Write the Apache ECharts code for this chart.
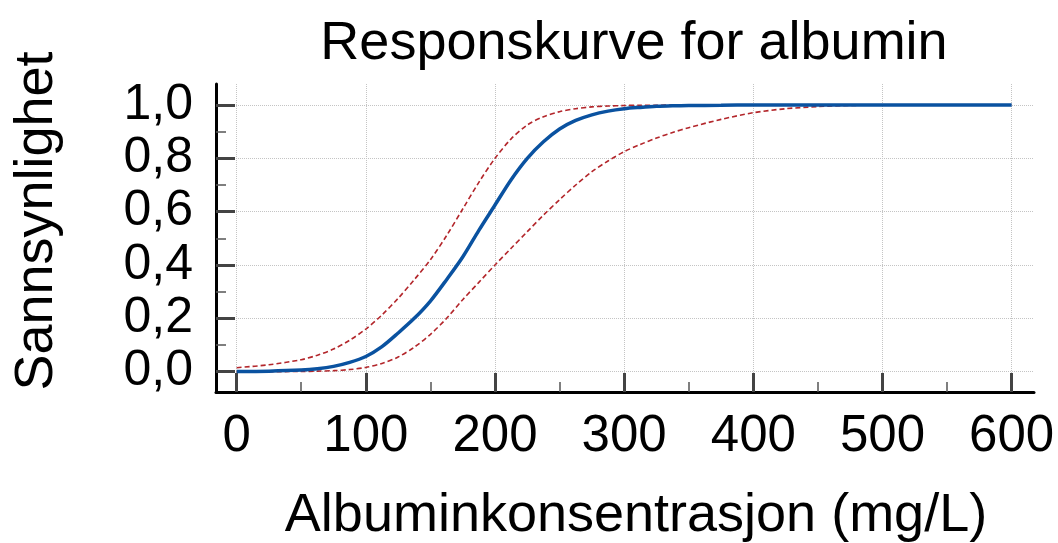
<!DOCTYPE html>
<html>
<head>
<meta charset="utf-8">
<title>Responskurve for albumin</title>
<script src="https://cdn.jsdelivr.net/npm/echarts@6/dist/echarts.min.js"></script>
<style>
  html, body { margin: 0; padding: 0; background: #fff; }
  #chart { width: 1058px; height: 543px; }
</style>
</head>
<body>
<div id="chart"></div>
<script>
// albumin concentration (mg/L)
const albumin = [0, 25, 50, 62.5, 75, 87.5, 100, 112.5, 125, 137.5, 150, 162.5, 175, 187.5, 200, 212.5, 225, 237.5,
  250, 262.5, 275, 287.5, 300, 312.5, 325, 337.5, 350, 375, 400, 425, 450, 475, 500, 550, 600]
// fitted response curve
const response = [0.001, 0.002, 0.006, 0.011, 0.02, 0.035, 0.057, 0.094, 0.145, 0.2, 0.265, 0.345, 0.43, 0.53, 0.625, 0.72, 0.8, 0.862,
  0.91, 0.942, 0.963, 0.977, 0.986, 0.991, 0.995, 0.997, 0.998, 0.999, 1, 1, 1, 1, 1, 1, 1]
// confidence band
const upperBand = [0.015, 0.026, 0.045, 0.062, 0.085, 0.118, 0.16, 0.213, 0.275, 0.345, 0.42, 0.51, 0.61, 0.71, 0.8, 0.873, 0.925, 0.956,
  0.975, 0.986, 0.993, 0.996, 0.998, 0.999, 0.999, 1, 1, 1, 1, 1, 1, 1, 1, 1, 1]
const lowerBand = [0, 0, 0.001, 0.002, 0.004, 0.008, 0.016, 0.031, 0.055, 0.092, 0.14, 0.2, 0.27, 0.335, 0.4, 0.463, 0.525, 0.587,
  0.645, 0.7, 0.75, 0.79, 0.825, 0.852, 0.876, 0.897, 0.915, 0.946, 0.971, 0.986, 0.994, 0.998, 1, 1, 1]

const xTicks = [0, 100, 200, 300, 400, 500, 600]
const xMinorTicks = [50, 150, 250, 350, 450, 550]
const yTicks = [0, 0.2, 0.4, 0.6, 0.8, 1.0]
const yMinorTicks = [0.1, 0.3, 0.5, 0.7, 0.9]

const font = '"Liberation Sans", Arial, sans-serif'
const xRange = { min: -16, max: 617.3 }
const yRange = { min: -0.0761, max: 1.0787 }

function pairs(ys) {
  return albumin.map((x, i) => [x, ys[i]])
}

const chart = echarts.init(document.getElementById('chart'))

chart.setOption({
  animation: false,
  title: {
    text: 'Responskurve for albumin',
    left: 629,
    top: 12,
    textAlign: 'center',
    textStyle: { fontFamily: font, fontSize: 54, fontWeight: 'normal', color: '#000' }
  },
  graphic: [
    {
      type: 'text',
      x: 636,
      y: 516,
      style: {
        text: 'Albuminkonsentrasjon (mg/L)',
        fontFamily: font, fontSize: 54, fill: '#000',
        textAlign: 'center', textVerticalAlign: 'middle'
      }
    },
    {
      type: 'text',
      x: 37,
      y: 221,
      rotation: Math.PI / 2,
      style: {
        text: 'Sannsynlighet',
        fontFamily: font, fontSize: 54, fill: '#000',
        textAlign: 'center', textVerticalAlign: 'middle'
      }
    }
  ],
  grid: { left: 216, right: 24, top: 84, bottom: 151, containLabel: false },
  xAxis: [
    {
      type: 'value', position: 'bottom', ...xRange,
      axisLine: { show: true, onZero: false, lineStyle: { color: '#000', width: 3 } },
      axisTick: { show: true, inside: true, length: 19, customValues: xTicks, lineStyle: { color: '#444', width: 3 } },
      axisLabel: { customValues: xTicks, margin: 19, fontFamily: font, fontSize: 51, color: '#000' },
      splitLine: { show: true, lineStyle: { color: '#c4c4c4', width: 1, type: 'dotted' } }
    },
    {
      type: 'value', position: 'bottom', ...xRange,
      axisLine: { show: false, onZero: false },
      axisTick: { show: true, inside: true, length: 10, customValues: xMinorTicks, lineStyle: { color: '#555', width: 1.5 } },
      axisLabel: { show: false },
      splitLine: { show: false }
    }
  ],
  yAxis: [
    {
      type: 'value', position: 'left', ...yRange,
      axisLine: { show: true, onZero: false, lineStyle: { color: '#000', width: 3 } },
      axisTick: { show: true, inside: true, length: 19, customValues: yTicks, lineStyle: { color: '#444', width: 3 } },
      axisLabel: {
        customValues: yTicks, margin: 23, fontFamily: font, fontSize: 50, color: '#000',
        formatter: v => v.toFixed(1).replace('.', ',')
      },
      splitLine: { show: true, lineStyle: { color: '#c4c4c4', width: 1, type: 'dotted' } }
    },
    {
      type: 'value', position: 'left', ...yRange,
      axisLine: { show: false, onZero: false },
      axisTick: { show: true, inside: true, length: 10, customValues: yMinorTicks, lineStyle: { color: '#555', width: 1.5 } },
      axisLabel: { show: false },
      splitLine: { show: false }
    }
  ],
  series: [
    {
      name: 'Øvre grense', type: 'line', data: pairs(upperBand),
      showSymbol: false, smooth: 0.3,
      lineStyle: { color: '#b3262b', width: 1.6, type: [5, 3] }
    },
    {
      name: 'Nedre grense', type: 'line', data: pairs(lowerBand),
      showSymbol: false, smooth: 0.3,
      lineStyle: { color: '#b3262b', width: 1.6, type: [5, 3] }
    },
    {
      name: 'Respons', type: 'line', data: pairs(response),
      showSymbol: false, smooth: 0.3,
      lineStyle: { color: '#0a52a0', width: 3.5 }
    }
  ]
})
</script>
</body>
</html>
